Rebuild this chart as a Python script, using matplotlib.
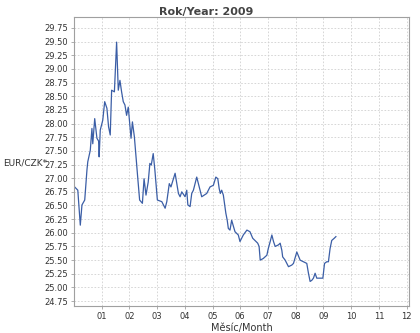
import numpy as np
import matplotlib.pyplot as plt
from matplotlib.ticker import FixedLocator, FormatStrFormatter

# EUR/CZK 2009 — position in months since 1 Jan, exchange rate
months = [0.025, 0.14, 0.23, 0.29, 0.39, 0.47, 0.50, 0.59, 0.65, 0.68,
          0.75, 0.83, 0.89, 0.91, 0.95, 1.04, 1.11, 1.19, 1.25, 1.31,
          1.36, 1.46, 1.54, 1.60, 1.66, 1.72, 1.78, 1.84, 1.90, 1.96,
          2.06, 2.11, 2.18, 2.26, 2.30, 2.37, 2.47, 2.53, 2.60, 2.68,
          2.74, 2.79, 2.86, 2.92, 3.01, 3.17, 3.29, 3.35, 3.44, 3.50,
          3.65, 3.77, 3.83, 3.89, 4.01, 4.07, 4.11, 4.19, 4.25, 4.31,
          4.37, 4.43, 4.49, 4.61, 4.79, 4.91, 5.03, 5.12, 5.19, 5.24,
          5.28, 5.33, 5.39, 5.48, 5.53, 5.57, 5.63, 5.69, 5.81, 5.93,
          5.99, 6.11, 6.24, 6.35, 6.45, 6.57, 6.63, 6.68, 6.72, 6.83,
          6.96, 7.01, 7.08, 7.14, 7.20, 7.26, 7.38, 7.44, 7.50, 7.53,
          7.62, 7.68, 7.74, 7.86, 7.92, 8.04, 8.16, 8.28, 8.40, 8.46,
          8.52, 8.58, 8.64, 8.70, 8.76, 8.98, 9.04, 9.12, 9.18, 9.24,
          9.30, 9.39, 9.45]
rate = [26.84, 26.78, 26.14, 26.51, 26.60, 27.15, 27.30, 27.51, 27.91, 27.63,
        28.09, 27.73, 27.68, 27.39, 27.88, 28.06, 28.40, 28.28, 27.94, 27.79,
        28.61, 28.58, 29.49, 28.61, 28.79, 28.58, 28.40, 28.34, 28.15, 28.30,
        27.73, 28.03, 27.76, 27.27, 27.02, 26.60, 26.54, 26.99, 26.69, 26.93,
        27.27, 27.24, 27.45, 27.15, 26.60, 26.57, 26.45, 26.57, 26.90, 26.84,
        27.09, 26.72, 26.66, 26.75, 26.66, 26.78, 26.51, 26.48, 26.72, 26.78,
        26.90, 27.02, 26.90, 26.66, 26.72, 26.84, 26.87, 27.02, 26.99, 26.81,
        26.72, 26.78, 26.69, 26.36, 26.23, 26.08, 26.05, 26.23, 26.02, 25.96,
        25.84, 25.96, 26.05, 26.02, 25.90, 25.84, 25.81, 25.75, 25.50, 25.53,
        25.59, 25.71, 25.84, 25.96, 25.84, 25.75, 25.78, 25.81, 25.68, 25.56,
        25.50, 25.44, 25.38, 25.41, 25.44, 25.65, 25.50, 25.47, 25.44, 25.26,
        25.11, 25.13, 25.17, 25.26, 25.17, 25.17, 25.44, 25.47, 25.47, 25.71,
        25.86, 25.90, 25.93]

y_ticks = np.arange(24.75, 29.76, 0.25)
x_ticks = list(range(1, 13))
x_labels = ["%02d" % m for m in x_ticks]

fig = plt.figure(figsize=(4.2, 3.33), dpi=100)
ax = fig.add_axes([0.176, 0.081, 0.798, 0.868])

ax.plot(months, rate, color="#3b5ea6", linewidth=0.9)

ax.set_xlim(0, 12.09)
ax.set_ylim(24.66, 29.95)
ax.yaxis.set_major_locator(FixedLocator(y_ticks))
ax.yaxis.set_major_formatter(FormatStrFormatter("%.2f"))
ax.set_xticks(x_ticks)
ax.set_xticklabels(x_labels)

ax.grid(True, color="#d0d0d0", linestyle=(0, (2, 2)), linewidth=0.6)
ax.set_axisbelow(True)
for s in ax.spines.values():
    s.set_color("#a0a0a0")
    s.set_linewidth(0.8)
ax.tick_params(axis="both", labelsize=6, colors="#a0a0a0", labelcolor="#333333",
               length=2, width=0.6, pad=2)

fig.text(0.49, 0.965, "Rok/Year: 2009", ha="center", va="center",
         fontsize=8, fontweight="bold", color="#444444")
fig.text(0.007, 0.511, "EUR/CZK*", ha="left", va="center", fontsize=6.5, color="#333333")
ax.set_xlabel("Měsíc/Month", fontsize=7, color="#333333", labelpad=2)

fig.savefig("out.png", dpi=100)
